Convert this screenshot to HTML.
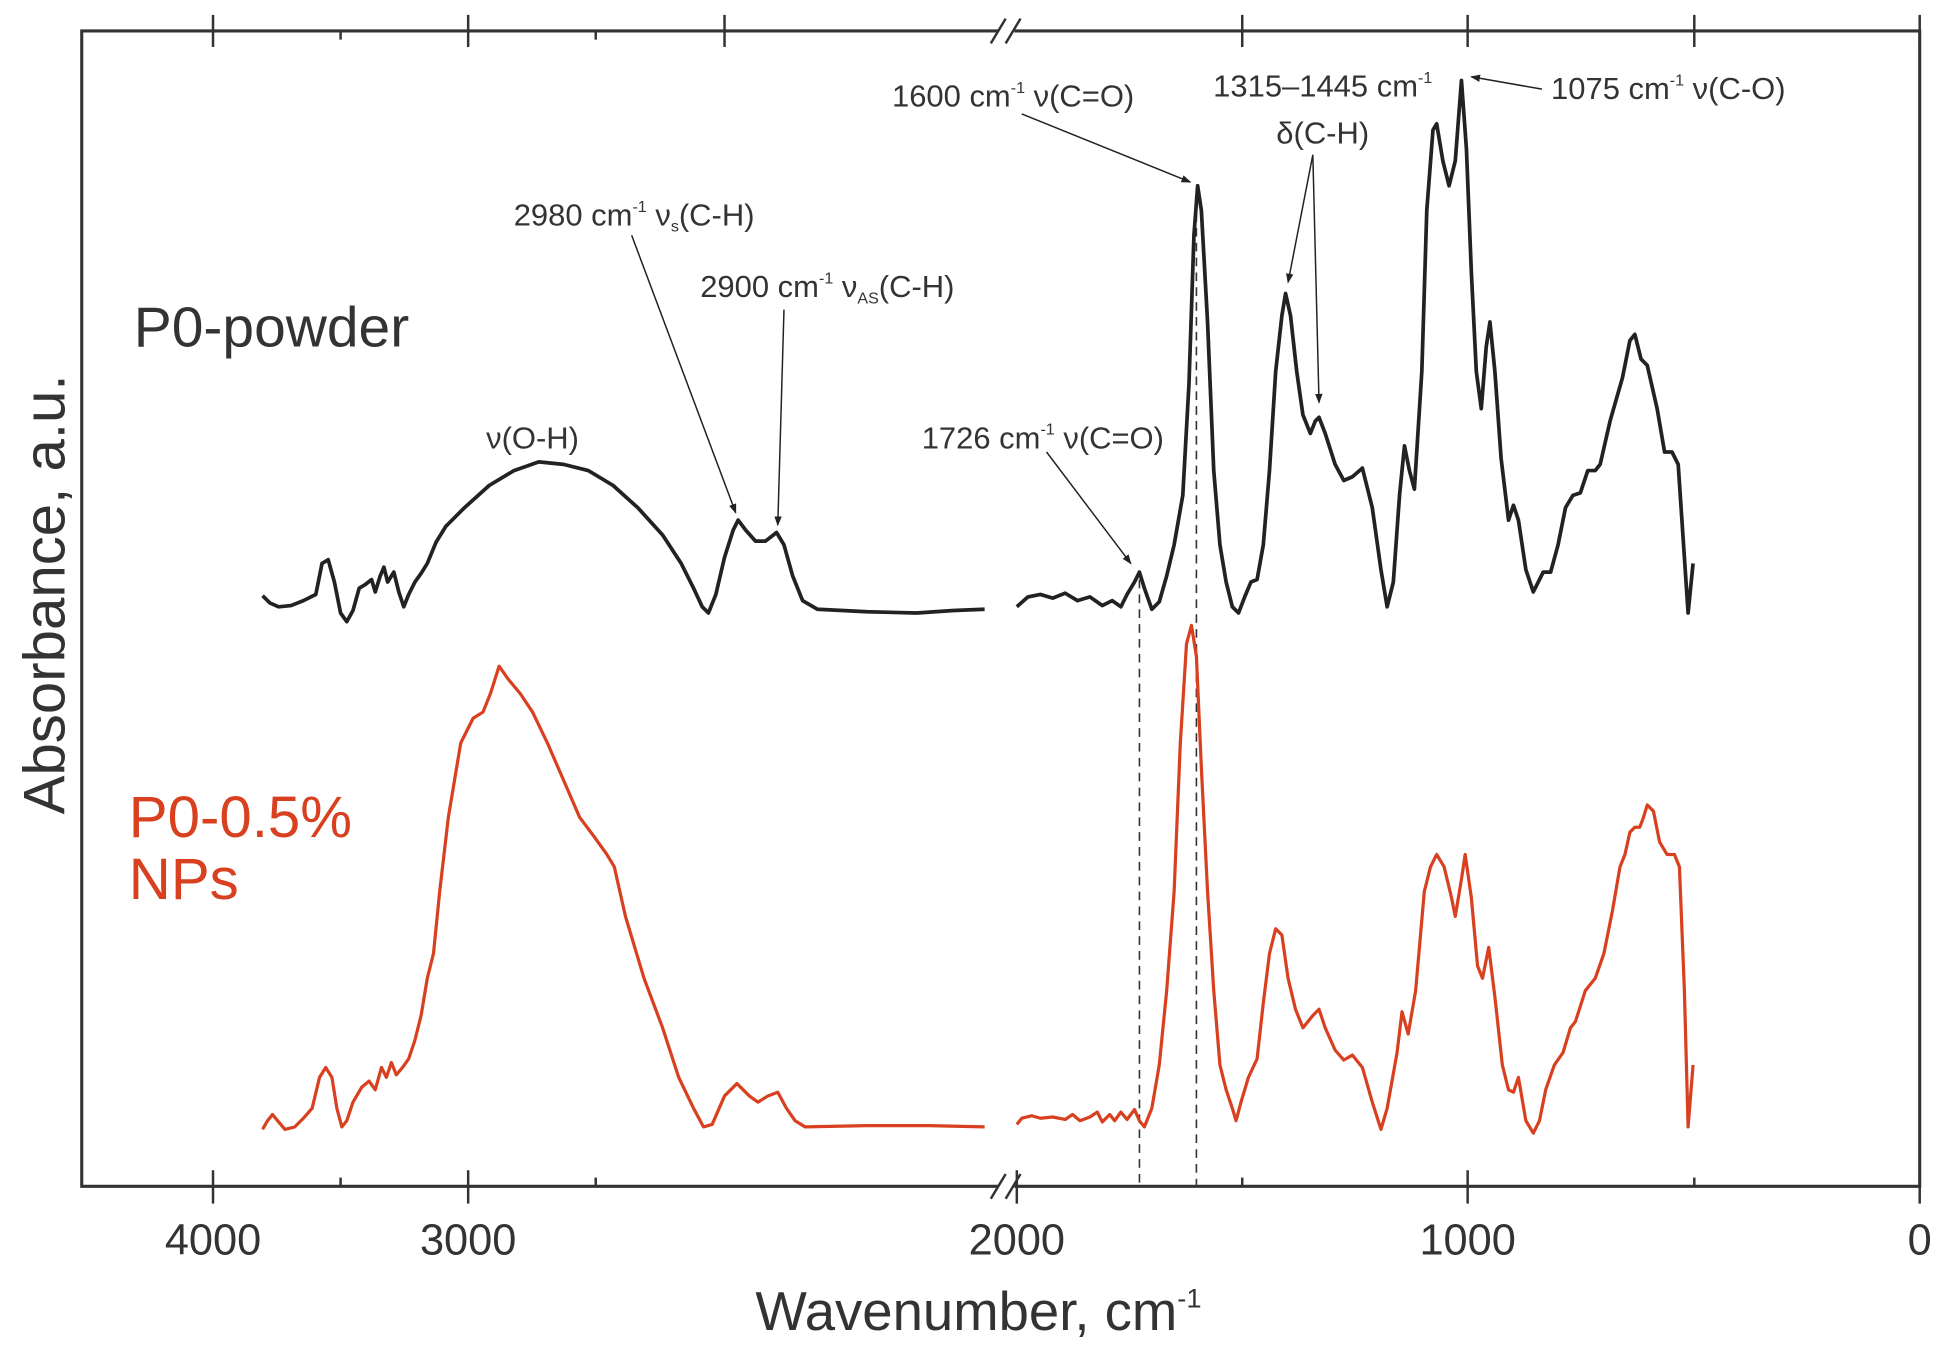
<!DOCTYPE html>
<html><head><meta charset="utf-8"><style>
html,body{margin:0;padding:0;background:#fff;}
svg{display:block;}
text{font-family:"Liberation Sans","DejaVu Sans",sans-serif;}
</style></head><body>
<svg width="1942" height="1356" viewBox="0 0 1568 1095" preserveAspectRatio="none" xmlns="http://www.w3.org/2000/svg">
<defs><marker id="ah" markerWidth="8" markerHeight="8" refX="7" refY="4" orient="auto" markerUnits="userSpaceOnUse"><path d="M0,1 L8,4 L0,7 z" fill="#222"/></marker></defs>
<rect width="1568" height="1095" fill="#fff"/>
<g stroke="#333" stroke-width="2.5" fill="none">
<path d="M806,25 H66 V958 H806"/>
<path d="M819,25 H1550 V958 H819"/>
</g>
<g stroke="#333" stroke-width="2">
<path d="M172,945 V972 M378,945 V972 M821,945 V972 M1185,945 V972 M1550,945 V972 M275,951 V958 M481,951 V958 M1003,951 V958 M1368,951 V958"/>
<path d="M172,12 V38 M378,12 V38 M585,12 V38 M1003,12 V38 M1185,12 V38 M1368,12 V38 M275,25 V32 M481,25 V32 M1550,12 V38"/>
<path d="M800,968 L812,948 M812,968 L824,948 M800,35 L812,15 M812,35 L824,15"/>
</g>
<g stroke="#333" stroke-width="1.3" stroke-dasharray="7,5">
<path d="M920,468 V958 M966,160 V958"/>
</g>
<g fill="none" stroke="#222" stroke-width="3" stroke-linejoin="round">
<polyline points="212,481 218,487 225,490 235,489 245,485 255,480 260,455 265,452 270,470 275,495 280,502 285,493 290,475 295,472 300,468 303,478 307,465 310,458 313,470 318,462 322,478 326,490 330,480 335,470 340,463 345,455 352,438 360,425 375,410 395,392 415,380 435,373 455,375 475,380 495,392 515,410 535,432 550,455 560,475 567,490 572,495 578,480 585,450 592,428 596,420 602,428 610,437 618,437 627,430 633,440 640,465 648,485 660,492 700,494 740,495 770,493 795,492"/>
<polyline points="821,490 830,482 840,480 850,483 860,479 870,485 880,482 890,489 898,485 905,490 910,480 916,470 920,462 924,475 930,492 936,486 942,465 948,440 955,400 960,310 964,190 967,150 970,170 975,260 980,380 985,440 990,470 995,490 1000,495 1005,482 1010,470 1015,468 1020,440 1025,380 1030,300 1035,255 1038,237 1042,255 1047,300 1052,335 1058,350 1062,340 1065,337 1070,350 1078,375 1085,388 1092,385 1100,378 1108,410 1115,460 1120,490 1125,470 1130,400 1134,360 1138,380 1142,395 1148,300 1152,170 1157,105 1160,100 1165,130 1170,150 1175,130 1180,65 1184,120 1188,220 1192,300 1196,330 1200,280 1203,260 1207,300 1212,370 1218,420 1222,408 1226,420 1232,460 1238,478 1242,470 1246,462 1252,462 1258,440 1264,410 1270,400 1276,398 1282,380 1288,380 1292,375 1300,340 1310,305 1316,275 1320,270 1325,290 1330,295 1338,330 1344,365 1350,365 1355,375 1360,450 1363,495 1367,455"/>
</g>
<g fill="none" stroke="#d8401f" stroke-width="2.6" stroke-linejoin="round">
<polyline points="212,912 216,905 220,900 225,906 230,912 238,910 245,903 252,895 258,870 263,862 268,870 272,895 276,910 280,905 285,890 292,878 298,873 303,880 308,862 312,870 316,858 320,868 325,862 330,855 335,840 340,820 345,790 350,770 355,720 362,660 372,600 382,580 390,575 396,560 403,538 410,548 420,560 430,575 442,600 455,630 468,660 480,676 490,690 496,700 505,740 520,790 535,830 548,870 560,895 568,910 575,908 585,885 595,875 605,885 612,890 620,885 628,882 635,895 642,905 650,910 700,909 750,909 795,910"/>
<polyline points="821,908 825,903 833,901 840,903 850,902 860,904 866,900 872,905 880,902 886,898 890,906 896,900 900,905 905,898 910,904 916,896 920,905 924,910 930,895 936,860 942,800 948,720 953,600 958,520 962,505 966,530 970,620 975,720 980,800 985,860 990,880 995,895 998,905 1002,890 1008,870 1015,855 1020,810 1025,770 1030,750 1035,755 1040,790 1046,815 1052,830 1060,820 1065,815 1070,830 1078,848 1085,856 1092,852 1100,862 1108,890 1115,912 1120,895 1128,850 1132,817 1137,835 1143,800 1150,720 1155,700 1160,690 1166,700 1172,725 1175,740 1180,710 1183,690 1188,725 1193,780 1197,790 1202,765 1207,805 1213,860 1218,880 1222,882 1226,870 1232,905 1238,915 1243,905 1248,880 1255,860 1262,850 1268,830 1272,825 1280,800 1288,790 1295,770 1302,735 1308,700 1312,690 1316,672 1320,668 1324,668 1327,660 1330,650 1335,655 1340,680 1346,690 1352,690 1356,700 1360,800 1363,910 1367,860"/>
</g>
<g stroke="#222" stroke-width="1.2" fill="none" marker-end="url(#ah)">
<line x1="825" y1="92" x2="961" y2="147"/>
<line x1="1060" y1="125" x2="1040" y2="228"/>
<line x1="1060" y1="125" x2="1065" y2="325"/>
<line x1="1245" y1="72" x2="1188" y2="62"/>
<line x1="510" y1="190" x2="594" y2="414"/>
<line x1="633" y1="250" x2="628" y2="424"/>
<line x1="845" y1="365" x2="913" y2="455"/>
</g>
<g fill="#333" font-size="25" text-anchor="middle">
<text x="818" y="86">1600 cm<tspan font-size="13" dy="-11">-1</tspan><tspan dy="11"> ν(C=O)</tspan></text>
<text x="1068" y="78">1315–1445 cm<tspan font-size="13" dy="-11">-1</tspan></text>
<text x="1068" y="116">δ(C-H)</text>
<text x="1347" y="80">1075 cm<tspan font-size="13" dy="-11">-1</tspan><tspan dy="11"> ν(C-O)</tspan></text>
<text x="512" y="182">2980 cm<tspan font-size="13" dy="-11">-1</tspan><tspan dy="11"> ν</tspan><tspan font-size="13" dy="5">s</tspan><tspan dy="-5">(C-H)</tspan></text>
<text x="668" y="240">2900 cm<tspan font-size="13" dy="-11">-1</tspan><tspan dy="11"> ν</tspan><tspan font-size="13" dy="5">AS</tspan><tspan dy="-5">(C-H)</tspan></text>
<text x="842" y="362">1726 cm<tspan font-size="13" dy="-11">-1</tspan><tspan dy="11"> ν(C=O)</tspan></text>
<text x="430" y="362">ν(O-H)</text>
</g>
<text x="108" y="280" font-size="46" fill="#333">P0-powder</text>
<text x="104" y="676" font-size="47" fill="#d8401f">P0-0.5%</text>
<text x="104" y="726" font-size="47" fill="#d8401f">NPs</text>
<g fill="#333" font-size="35" text-anchor="middle">
<text x="172" y="1013">4000</text>
<text x="378" y="1013">3000</text>
<text x="821" y="1013">2000</text>
<text x="1185" y="1013">1000</text>
<text x="1550" y="1013">0</text>
</g>
<text x="790" y="1074" font-size="44" fill="#333" text-anchor="middle">Wavenumber, cm<tspan font-size="22" dy="-18">-1</tspan></text>
<text transform="translate(52,480) rotate(-90)" font-size="47" fill="#333" text-anchor="middle">Absorbance, a.u.</text>
</svg>
</body></html>
